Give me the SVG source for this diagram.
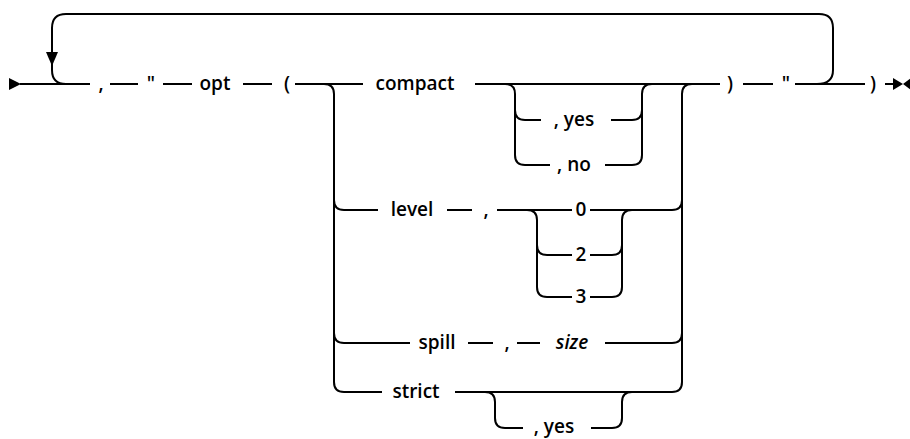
<svg xmlns="http://www.w3.org/2000/svg" width="910" height="439" viewBox="0 0 910 439">
<style>
.l{fill:none;stroke:#000;stroke-width:2}
.t{font-family:"Open Sans","Liberation Sans",Arial,sans-serif;font-size:19px;font-weight:600;fill:#000;text-anchor:middle}
.i{font-style:italic}
.a{fill:#000;stroke:none}
</style>
<rect width="910" height="439" fill="#fff"/>
<g id="connectors">
<path class="l" d="M20 84H90M110 84H138M163 84H192M243 84H272M295 84H363M475 84H720M743 84H773M795 84H865M885 84H896"/>
<path class="l" d="M817 84Q833 84 833 70V28Q833 14 819 14H66Q52 14 52 28V70Q52 84 66 84"/>
<path class="l" d="M324 84Q334 84 334 94V382Q334 392 344 392H382M334 200Q334 210 344 210H378M334 333Q334 343 344 343H410"/>
<path class="l" d="M455 392H672Q682 392 682 382V94Q682 84 692 84M672 210Q682 210 682 200M672 343Q682 343 682 333"/>
<path class="l" d="M505 84Q515 84 515 94V155Q515 165 525 165H550M515 110Q515 120 525 120H541M605 165H632Q642 165 642 155V94Q642 84 652 84M611 120H632Q642 120 642 110"/>
<path class="l" d="M447 210H472M497 210H572M590 210H672M527 210Q537 210 537 220V287Q537 297 547 297H572M537 245Q537 255 547 255H572M590 297H612Q622 297 622 287V220Q622 210 632 210M590 255H612Q622 255 622 245"/>
<path class="l" d="M468 343H493M517 343H540M605 343H672"/>
<path class="l" d="M485 392Q495 392 495 402V418Q495 428 505 428H523M591 428H612Q622 428 622 418V402Q622 392 632 392"/>
<polygon class="a" points="9,78 21,84 9,90"/>
<polygon class="a" points="46,52 58,52 52,66"/>
<polygon class="a" points="893,78 903,84 893,90"/>
<polygon class="a" points="911,78 903,84 911,90"/>
</g>
<g id="n-comma1"><text class="t" x="101" y="90">,</text></g>
<g id="n-quote1"><text class="t" x="151" y="90">"</text></g>
<g id="n-opt"><text class="t" x="215" y="90">opt</text></g>
<g id="n-lparen"><text class="t" x="287" y="90">(</text></g>
<g id="n-compact"><text class="t" x="415" y="90">compact</text></g>
<g id="n-yes1"><text class="t" x="574" y="126">, yes</text></g>
<g id="n-no"><text class="t" x="574" y="171">, no</text></g>
<g id="n-rparen1"><text class="t" x="730" y="90">)</text></g>
<g id="n-quote2"><text class="t" x="786" y="90">"</text></g>
<g id="n-rparen2"><text class="t" x="873" y="90">)</text></g>
<g id="n-level"><text class="t" x="412" y="216">level</text></g>
<g id="n-comma2"><text class="t" x="486" y="216">,</text></g>
<g id="n-0"><text class="t" x="581" y="216">0</text></g>
<g id="n-2"><text class="t" x="581" y="261">2</text></g>
<g id="n-3"><text class="t" x="581" y="303">3</text></g>
<g id="n-spill"><text class="t" x="437" y="349">spill</text></g>
<g id="n-comma3"><text class="t" x="507" y="349">,</text></g>
<g id="n-size"><text class="t i" x="572" y="349">size</text></g>
<g id="n-strict"><text class="t" x="416" y="398">strict</text></g>
<g id="n-yes2"><text class="t" x="554" y="433">, yes</text></g>
</svg>
